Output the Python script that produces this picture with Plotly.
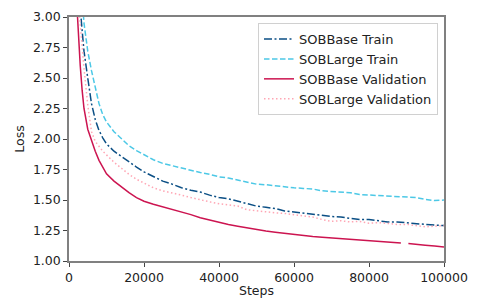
import plotly.graph_objects as go

steps = [2000, 2500, 3000, 3500, 4000, 5000, 6000, 7000, 8000, 9000, 10000, 12000, 14000, 16000, 18000, 20000,
         22500, 25000, 27500, 30000, 32500, 35000, 37500, 40000, 42500, 45000, 47500, 50000, 52500, 55000,
         57500, 60000, 62500, 65000, 67500, 70000, 72500, 75000, 77500, 80000, 82500, 85000, 87500, 88500,
         89500, 90500, 92500, 95000, 97500, 100000]

sobbase_train = [3.6, 3.3, 3.07, 2.89, 2.72, 2.50, 2.29, 2.16, 2.07, 2.01, 1.96, 1.90, 1.855, 1.81, 1.77, 1.73,
                 1.69, 1.655, 1.63, 1.60, 1.58, 1.565, 1.54, 1.52, 1.51, 1.49, 1.465, 1.45, 1.44, 1.43,
                 1.41, 1.40, 1.39, 1.38, 1.37, 1.365, 1.36, 1.35, 1.34, 1.34, 1.33, 1.32, 1.32, 1.318,
                 1.316, 1.315, 1.31, 1.30, 1.295, 1.29]

soblarge_train = [4.2, 3.8, 3.45, 3.15, 2.95, 2.72, 2.56, 2.42, 2.29, 2.20, 2.14, 2.06, 2.00, 1.945, 1.905, 1.87,
                  1.83, 1.80, 1.78, 1.76, 1.74, 1.725, 1.71, 1.69, 1.68, 1.665, 1.65, 1.63, 1.625, 1.615,
                  1.61, 1.60, 1.595, 1.59, 1.575, 1.57, 1.565, 1.56, 1.545, 1.54, 1.535, 1.535, 1.53, 1.528,
                  1.526, 1.525, 1.52, 1.505, 1.495, 1.50]

sobbase_val = [3.15, 2.85, 2.6, 2.40, 2.25, 2.08, 1.98, 1.90, 1.825, 1.765, 1.715, 1.655, 1.605, 1.56, 1.52, 1.49,
               1.465, 1.445, 1.42, 1.40, 1.38, 1.355, 1.335, 1.315, 1.30, 1.285, 1.27, 1.255, 1.245, 1.235,
               1.225, 1.215, 1.21, 1.20, 1.195, 1.19, 1.185, 1.175, 1.17, 1.165, 1.16, 1.155, 1.15, 1.148,
               None, 1.143, 1.135, 1.13, 1.122, 1.115]

soblarge_val = [3.3, 3.1, 2.92, 2.74, 2.58, 2.28, 2.06, 1.98, 1.935, 1.90, 1.87, 1.81, 1.76, 1.71, 1.67, 1.64,
                1.60, 1.575, 1.56, 1.54, 1.52, 1.50, 1.485, 1.47, 1.46, 1.45, 1.42, 1.41, 1.40, 1.395,
                1.39, 1.38, 1.37, 1.36, 1.34, 1.325, 1.33, 1.32, 1.325, 1.31, 1.315, 1.305, 1.30, 1.30,
                1.30, 1.30, 1.29, 1.28, 1.285, 1.29]

x_ticks = [0, 20000, 40000, 60000, 80000, 100000]
y_ticks = [1.00, 1.25, 1.50, 1.75, 2.00, 2.25, 2.50, 2.75, 3.00]

series = [
    ("SOBBase Train", sobbase_train, "#0b4f85", "8px,2.5px,2px,2.5px"),
    ("SOBLarge Train", soblarge_train, "#4cc8e6", "5.5px,2.5px"),
    ("SOBBase Validation", sobbase_val, "#cc1450", "solid"),
    ("SOBLarge Validation", soblarge_val, "#ffa6b4", "1.5px,2.5px"),
]

fig = go.Figure()
for name, vals, color, dash in series:
    fig.add_trace(go.Scatter(x=steps, y=vals, name=name, mode="lines",
                             line=dict(color=color, width=1.5, dash=dash),
                             connectgaps=False))

fs = 12.5
font = dict(family="DejaVu Sans", size=fs, color="#222")
fig.update_layout(
    width=479, height=300,
    margin=dict(l=69, r=35, t=17, b=39),
    paper_bgcolor="white", plot_bgcolor="white",
    font=font,
    showlegend=True,
    legend=dict(x=0.984, y=0.975, xanchor="right", yanchor="top",
                bgcolor="white", bordercolor="#d0d0d0", borderwidth=1,
                font=dict(family="DejaVu Sans", size=13, color="#222"),
                tracegroupgap=0, itemwidth=30),
)
fig.update_xaxes(range=[0, 100000], tickvals=x_ticks, ticktext=[str(v) for v in x_ticks],
                 showgrid=False, zeroline=False, showline=True, mirror=True,
                 linecolor="#808080", linewidth=1.5, ticks="outside", ticklen=4,
                 tickcolor="#444", tickfont=font, automargin=False,
                 title=dict(text="Steps", standoff=2, font=font))
fig.update_yaxes(range=[1, 3], tickvals=y_ticks, ticktext=[f"{v:.2f}" for v in y_ticks],
                 showgrid=False, zeroline=False, showline=True, mirror=True,
                 linecolor="#808080", linewidth=1.5, ticks="outside", ticklen=4,
                 tickcolor="#444", tickfont=font, automargin=False,
                 title=dict(text="Loss", standoff=6, font=font))

fig.write_html("out.html", config={"displayModeBar": False},
               post_script="document.body.style.margin='0';document.body.style.overflow='hidden';")
